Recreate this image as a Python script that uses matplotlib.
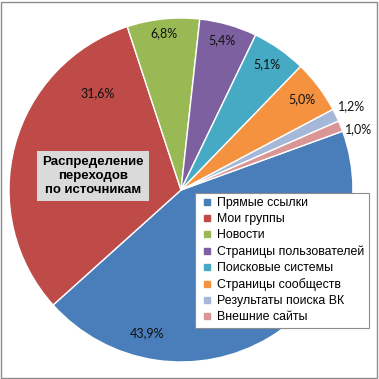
import matplotlib.pyplot as plt
from matplotlib.lines import Line2D
from matplotlib.patches import Rectangle

# данные
sources = ['Прямые ссылки', 'Мои группы', 'Новости', 'Страницы пользователей',
           'Поисковые системы', 'Страницы сообществ', 'Результаты поиска ВК',
           'Внешние сайты']
shares = [43.9, 31.6, 6.8, 5.4, 5.1, 5.0, 1.2, 1.0]
colors = ['#4A7EBB', '#BE4B48', '#98B954', '#7D60A0',
          '#46AAC5', '#F59240', '#A5B8DA', '#D99694']

# положения подписей (пиксели картинки, y сверху вниз)
label_xy = [(147, 333), (98, 93), (164, 33), (222, 40),
            (267, 64), (302, 99), (352, 106), (359, 129)]

W = 379
fig = plt.figure(figsize=(W / 100, W / 100), dpi=100)
ax = fig.add_axes([0, 0, 1, 1])

cx, cy, r = 181, W - 190, 172
wedges, _ = ax.pie(shares, colors=colors, startangle=20, counterclock=False,
                   center=(cx, cy), radius=r,
                   wedgeprops={'edgecolor': 'white', 'linewidth': 1})
ax.set_xlim(0, W)
ax.set_ylim(0, W)
ax.set_aspect('equal')
ax.axis('off')

for v, (x, y) in zip(shares, label_xy):
    ax.text(x, W - y, f'{v:.1f}%'.replace('.', ','), ha='center', va='center',
            fontsize=9, family='Lato', color='#111111')

# заголовок в сером прямоугольнике
ax.text(93, W - 176, 'Распределение\nпереходов\nпо источникам', ha='center',
        va='center', fontsize=9.5, fontweight='bold', family='Liberation Sans',
        linespacing=1.25,
        bbox={'facecolor': '#DADADA', 'edgecolor': 'none', 'pad': 3.5})

handles = [Line2D([], [], marker='s', linestyle='none', markersize=4,
                  markerfacecolor=c, markeredgecolor=c) for c in colors]
leg = fig.legend(handles, sources, loc='upper left',
                 bbox_to_anchor=(195 / W, 1 - 193 / W),
                 prop={'family': 'Liberation Sans', 'size': 8.9},
                 frameon=True, fancybox=False, framealpha=1,
                 handlelength=1.3, handletextpad=0.15, borderpad=0.35,
                 labelspacing=0.33, borderaxespad=0)
leg.get_frame().set_edgecolor('#8c8c8c')
leg.get_frame().set_linewidth(0.8)

fig.patches.append(Rectangle((1 / W, 1 / W), 1 - 3 / W, 1 - 3 / W,
                             transform=fig.transFigure, fill=False,
                             edgecolor='#8c8c8c', linewidth=1))

fig.savefig('out.png', dpi=100)
